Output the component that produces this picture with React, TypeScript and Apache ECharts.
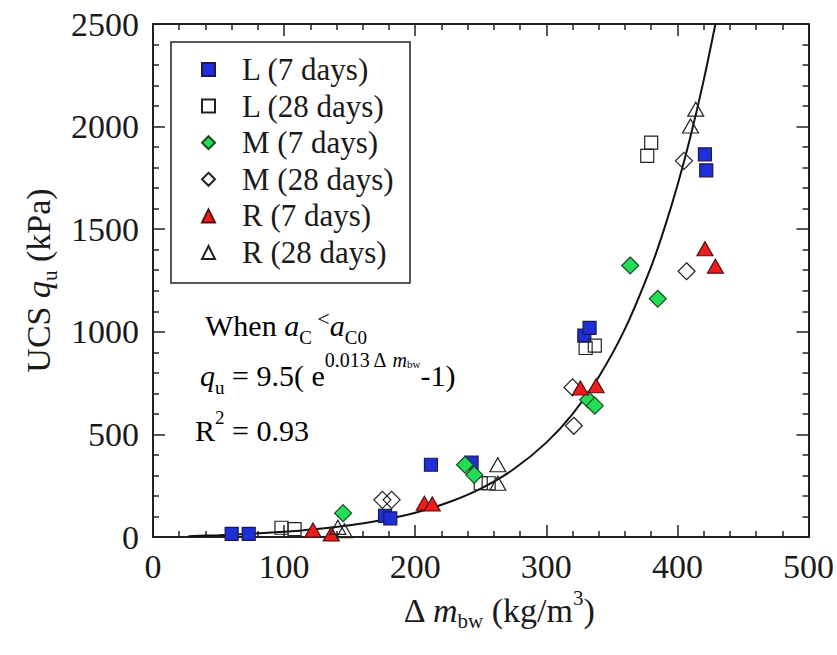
import React, { useEffect, useRef } from "react";
import * as echarts from "echarts";

const FONT = "Liberation Serif";
const TXT = "#1a1a1a";

// L (7 days)
const xL7 = [60, 73, 177, 181, 212, 243, 329, 333, 421, 422];
const yL7 = [15, 15, 103, 91, 352, 362, 981, 1019, 1865, 1787];
// L (28 days)
const xL28 = [98, 108, 250, 256, 330, 337, 377, 380];
const yL28 = [45, 38, 262, 262, 921, 933, 1857, 1922];
// M (7 days)
const xM7 = [145, 238, 245, 332, 337, 364, 385];
const yM7 = [116, 352, 303, 669, 640, 1323, 1161];
// M (28 days)
const xM28 = [175, 182, 320, 321, 405, 407];
const yM28 = [181, 181, 729, 542, 1833, 1295];
// R (7 days)
const xR7 = [122, 136, 207, 213, 326, 338, 421, 429];
const yR7 = [34, 15, 165, 161, 726, 737, 1405, 1320];
// R (28 days)
const xR28 = [141, 146, 263, 263, 410, 414];
const yR28 = [47, 31, 352, 262, 2003, 2085];

// fitted curve
const fitX = [27, 50, 75, 100, 125, 150, 175, 200, 225, 250, 275, 300, 320, 340, 360, 380, 390, 400, 410, 420, 429];
const fitY = [4, 9, 16, 25, 39, 57, 83, 118, 168, 236, 330, 460, 599, 780, 1014, 1318, 1503, 1713, 1952, 2224, 2500];

const xTicks = { min: 0, max: 500, interval: 100 };
const yTicks = { min: 0, max: 2500, interval: 500 };

const legendNames = ["L (7 days)", "L (28 days)", "M (7 days)", "M (28 days)", "R (7 days)", "R (28 days)"];

const pairs = (xs: number[], ys: number[]) => xs.map((x, i) => [x, ys[i]]);

const base = (size: number, extra: any = {}) => ({ fontSize: size, fontFamily: FONT, color: TXT, ...extra });

export default function App() {
  const ref = useRef<HTMLDivElement>(null);
  useEffect(() => {
    if (!ref.current) return;
    const chart = echarts.init(ref.current, null, { renderer: "svg" });
    const open = "rgba(255,255,255,0)";
    const mk = (name: string, xs: number[], ys: number[], symbol: string, size: any, color: string, border: string) => ({
      type: "scatter",
      name,
      data: pairs(xs, ys),
      symbol,
      symbolSize: size,
      itemStyle: { color, borderColor: border, borderWidth: 1.2, opacity: 1 },
      z: 3,
      xAxisIndex: 0,
      yAxisIndex: 0,
    });
    const axisCommon = {
      axisLine: { show: true, onZero: false, lineStyle: { color: "#222", width: 2 } },
      axisTick: { show: true, inside: true, length: 12, lineStyle: { color: "#222", width: 1.5 } },
      minorTick: { show: true, splitNumber: 5, length: 6, lineStyle: { color: "#222", width: 1.5 } },
      splitLine: { show: false },
      minorSplitLine: { show: false },
    };
    const fmt = (v: number) => String(v);
    const annRich = {
      n: base(30, { lineHeight: 48 }),
      i: base(30, { lineHeight: 48, fontStyle: "italic" }),
      sub: base(19, { lineHeight: 19, padding: [24, 0, 0, 0] }),
      lt: base(22, { lineHeight: 22, padding: [0, 0, 14, 0] }),
      sup: base(20, { lineHeight: 20, padding: [0, 0, 30, 0] }),
      supi: base(20, { lineHeight: 20, padding: [0, 0, 30, 0], fontStyle: "italic" }),
      supsub: base(11, { lineHeight: 11, padding: [0, 0, 22, 0] }),
      r2: base(19, { lineHeight: 19, padding: [0, 0, 26, 0] }),
    };
    const option: any = {
      animation: false,
      backgroundColor: "#fff",
      textStyle: { fontFamily: FONT },
      grid: { left: 153, right: 28, top: 24, bottom: 118, containLabel: false },
      xAxis: [
        {
          type: "value",
          position: "bottom",
          ...xTicks,
          ...axisCommon,
          axisLabel: { show: true, margin: 12, fontSize: 34, fontFamily: FONT, color: TXT, formatter: fmt },
          name: "{n|Δ }{i|m}{sub|bw}{n| (kg/m}{sup|3}{n|)}",
          nameLocation: "middle",
          nameGap: 42,
          nameTextStyle: {
            padding: [0, 0, 0, 36],
            rich: {
              n: base(34, { lineHeight: 44 }),
              i: base(34, { lineHeight: 44, fontStyle: "italic" }),
              sub: base(21, { lineHeight: 21, padding: [22, 0, 0, 0] }),
              sup: base(21, { lineHeight: 21, padding: [0, 0, 24, 0] }),
            },
          },
        },
        {
          type: "value",
          position: "top",
          ...xTicks,
          ...axisCommon,
          axisLabel: { show: false },
        },
      ],
      yAxis: [
        {
          type: "value",
          position: "left",
          ...yTicks,
          ...axisCommon,
          axisLabel: { show: true, margin: 14, fontSize: 34, fontFamily: FONT, color: TXT, formatter: fmt },
          name: "{n|UCS }{i|q}{sub|u}{n| (kPa)}",
          nameLocation: "middle",
          nameGap: 92,
          nameTextStyle: {
            rich: {
              n: base(34, { lineHeight: 44 }),
              i: base(34, { lineHeight: 44, fontStyle: "italic" }),
              sub: base(21, { lineHeight: 21, padding: [22, 0, 0, 0] }),
            },
          },
        },
        {
          type: "value",
          position: "right",
          ...yTicks,
          ...axisCommon,
          axisLabel: { show: false },
        },
      ],
      legend: {
        data: legendNames,
        orient: "vertical",
        left: 201,
        top: 54,
        padding: 0,
        itemWidth: 13,
        itemHeight: 13,
        itemGap: 5.6,
        formatter: (name: string) => "{t|" + name + "}",
        textStyle: {
          fontFamily: FONT,
          rich: { t: base(31, { lineHeight: 31, padding: [0, 0, 0, 22] }) },
        },
        selectedMode: false,
      },
      graphic: [
        {
          type: "rect",
          shape: { x: 171, y: 42, width: 239, height: 241 },
          style: { fill: "none", stroke: "#222", lineWidth: 1.5 },
          z: 10,
        },
        {
          type: "text",
          x: 205,
          y: 325,
          style: { text: "{n|When }{i|a}{sub|C}{lt| <}{i|a}{sub|C0}", rich: annRich, verticalAlign: "middle", align: "left" },
          z: 10,
        },
        {
          type: "text",
          x: 200,
          y: 375,
          style: {
            text: "{i|q}{sub|u}{n| = 9.5( e}{sup|0.013 Δ }{supi|m}{supsub|bw}{n|-1)}",
            rich: annRich,
            verticalAlign: "middle",
            align: "left",
          },
          z: 10,
        },
        {
          type: "text",
          x: 195,
          y: 430,
          style: { text: "{n|R}{r2|2}{n| = 0.93}", rich: annRich, verticalAlign: "middle", align: "left" },
          z: 10,
        },
      ],
      series: [
        {
          type: "line",
          name: "fit",
          data: pairs(fitX, fitY),
          smooth: 0.3,
          symbol: "none",
          showSymbol: false,
          lineStyle: { color: "#111", width: 2 },
          z: 2,
          silent: true,
          xAxisIndex: 0,
          yAxisIndex: 0,
        },
        mk(legendNames[0], xL7, yL7, "rect", 13, "#1f2ed6", "#1a1a55"),
        mk(legendNames[1], xL28, yL28, "rect", 13, open, "#222"),
        mk(legendNames[2], xM7, yM7, "diamond", 17, "#22dd55", "#1a4a22"),
        mk(legendNames[3], xM28, yM28, "diamond", 17, open, "#222"),
        mk(legendNames[4], xR7, yR7, "triangle", [16, 14], "#ee1c1c", "#551111"),
        mk(legendNames[5], xR28, yR28, "triangle", [16, 14], open, "#222"),
      ],
    };
    chart.setOption(option);
    return () => chart.dispose();
  }, []);
  return (
    <div
      ref={ref}
      style={{ position: "absolute", left: 0, top: 0, width: 837, height: 655, background: "#fff" }}
    />
  );
}
